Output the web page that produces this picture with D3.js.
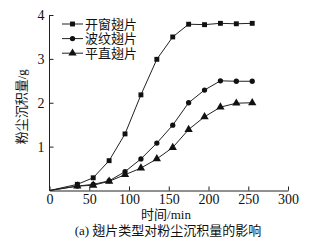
<!DOCTYPE html>
<html lang="zh">
<head>
<meta charset="UTF-8">
<script src="https://cdn.jsdelivr.net/npm/d3@7"></script>
<style>
  body { margin: 0; background: #fff; }
  text { fill: #111; }
</style>
</head>
<body>
<svg id="chart" width="315" height="249"></svg>
<script>
  const times = [0, 35, 55, 75, 95, 115, 135, 155, 175, 195, 215, 235, 255];
  const windowFin = [0, 0.14, 0.29, 0.68, 1.29, 2.18, 2.99, 3.50, 3.79, 3.78, 3.81, 3.80, 3.81];
  const wavyFin = [0, 0.10, 0.14, 0.22, 0.43, 0.72, 1.08, 1.49, 2.00, 2.29, 2.50, 2.49, 2.49];
  const flatFin = [0, 0.10, 0.12, 0.21, 0.36, 0.51, 0.72, 0.98, 1.39, 1.68, 1.90, 1.99, 2.00];
  const seriesNames = ["开窗翅片", "波纹翅片", "平直翅片"];
  const markers = [d3.symbolSquare, d3.symbolCircle, d3.symbolTriangle];
  const xTicks = [0, 50, 100, 150, 200, 250, 300];
  const yTicks = [1, 2, 3, 4];

  const series = [windowFin, wavyFin, flatFin].map((vals, i) => ({
    name: seriesNames[i],
    marker: markers[i],
    points: vals.map((v, j) => ({ t: times[j], v }))
  }));

  const svg = d3.select("#chart");
  const x = d3.scaleLinear().domain([0, 300]).range([49.5, 288]);
  const y = d3.scaleLinear().domain([0, 4]).range([190.5, 15]);
  const serif = "'Liberation Serif', 'Times New Roman', serif";
  // serif first so numbers match; Chinese glyphs fall back to Noto CJK
  const cjk = "'Liberation Serif', 'Noto Sans CJK SC', serif";

  // axes, ticks pointing inward
  const xAxis = svg.append("g")
    .attr("transform", `translate(0,${y(0)})`)
    .call(d3.axisBottom(x).tickValues(xTicks).tickFormat(d3.format("d"))
      .tickSizeInner(-4).tickSizeOuter(0).tickPadding(5));
  const yAxis = svg.append("g")
    .attr("transform", `translate(${x(0)},0)`)
    .call(d3.axisLeft(y).tickValues(yTicks).tickFormat(d3.format("d"))
      .tickSizeInner(-4).tickSizeOuter(0).tickPadding(5));
  [xAxis, yAxis].forEach(a => {
    a.attr("font-family", null).attr("font-size", null);
    a.select(".domain").attr("stroke", "#222").attr("stroke-width", 1);
    a.selectAll(".tick line").attr("stroke", "#222");
    a.selectAll(".tick text").style("font-family", serif).style("font-size", "14px").attr("fill", "#111");
  });
  xAxis.selectAll(".tick text").attr("dy", "0.6em");
  yAxis.select(".domain").attr("d", `M0,${y(0)}V${y(4)}`);

  const line = d3.line().x(d => x(d.t)).y(d => y(d.v));
  const symSize = m => m === d3.symbolTriangle ? 30 : m === d3.symbolCircle ? 22 : 24;

  series.forEach(s => {
    svg.append("path").datum(s.points)
      .attr("d", line).attr("fill", "none").attr("stroke", "#222").attr("stroke-width", 1);
    svg.append("g").selectAll("path").data(s.points.slice(1)).join("path")
      .attr("d", d3.symbol(s.marker, symSize(s.marker)))
      .attr("transform", d => `translate(${x(d.t)},${y(d.v)})`)
      .attr("fill", "#111");
  });

  // legend
  const legend = svg.append("g").attr("transform", "translate(62,24)");
  series.forEach((s, i) => {
    const g = legend.append("g").attr("transform", `translate(0,${i * 14.6})`);
    g.append("line").attr("x1", 0).attr("x2", 21).attr("stroke", "#222");
    g.append("path").attr("d", d3.symbol(s.marker, symSize(s.marker)))
      .attr("transform", "translate(10.5,0)").attr("fill", "#111");
    g.append("text").attr("x", 23).attr("y", 4.5)
      .style("font-family", cjk).style("font-size", "13px").text(s.name);
  });

  // axis titles
  svg.append("text")
    .attr("transform", `translate(26,${(y(0) + y(4)) / 2 + 4}) rotate(-90)`)
    .attr("text-anchor", "middle").style("font-family", cjk).style("font-size", "13px")
    .text("粉尘沉积量/g");
  svg.append("text").attr("x", 166).attr("y", 219)
    .attr("text-anchor", "middle").style("font-family", cjk).style("font-size", "13px")
    .text("时间/min");
  svg.append("text").attr("x", 168).attr("y", 235)
    .attr("text-anchor", "middle").style("font-family", cjk).style("font-size", "13px")
    .text("(a) 翅片类型对粉尘沉积量的影响");
</script>
</body>
</html>
